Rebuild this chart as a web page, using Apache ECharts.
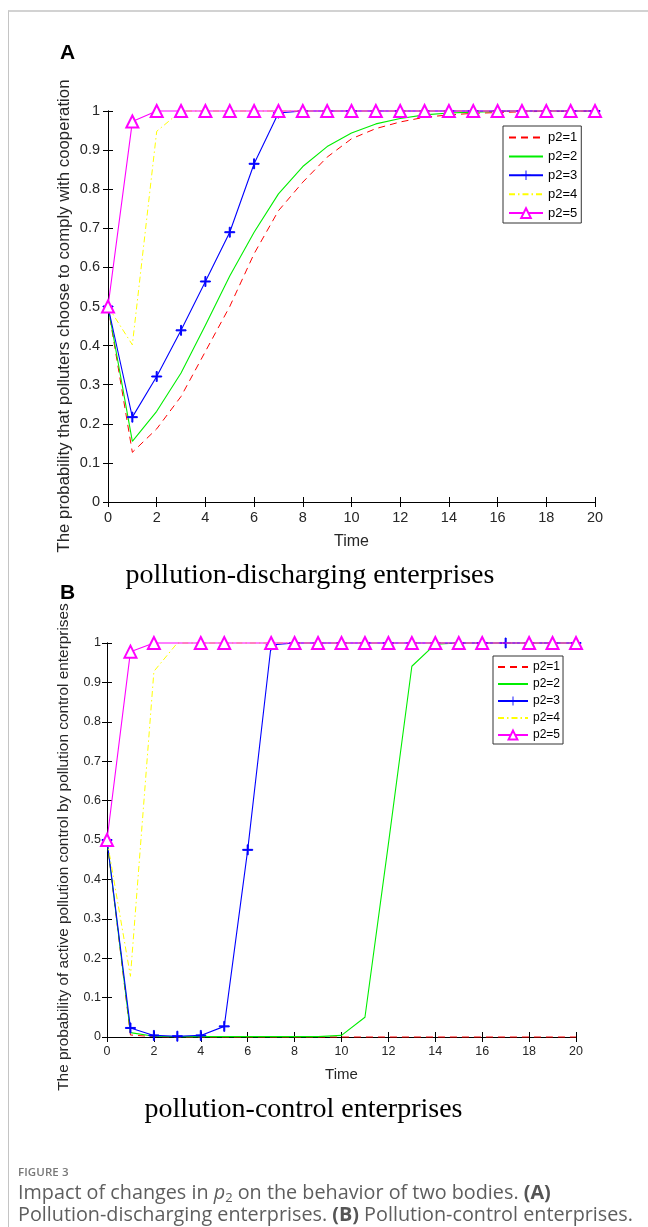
<!DOCTYPE html>
<html>
<head>
<meta charset="utf-8">
<script src="https://cdn.jsdelivr.net/npm/echarts@6/dist/echarts.min.js"></script>
<style>
  html, body { margin: 0; padding: 0; background: #fff; }
  #page { position: relative; width: 648px; height: 1227px; overflow: hidden; background: #fff; }
  #chart { position: absolute; left: 0; top: 0; width: 648px; height: 1227px; }
  #frame { position: absolute; left: 8px; top: 10px; width: 660px; height: 1300px;
           border-top: 2px solid #d2d2d2; border-left: 1px solid #c4c4c4; }
  #caption { position: absolute; left: 18px; top: 1164px; width: 640px;
             font-family: "Open Sans", "Noto Sans", sans-serif; color: #5e5e5e; }
  #caption .fig { font-size: 11.5px; font-weight: 600; color: #777; letter-spacing: 0.1px; line-height: 15px; }
  #caption .l1, #caption .l2 { font-size: 19.8px; line-height: 22px; white-space: nowrap; }
  #caption .l1 { margin-top: 2px; }
  #caption b { font-weight: 700; color: #555; }
  #caption sub { font-size: 13px; vertical-align: -3px; line-height: 0; }
</style>
</head>
<body>
<div id="page">
  <div id="frame"></div>
  <div id="chart"></div>
  <div id="caption">
    <div class="fig">FIGURE 3</div>
    <div class="l1">Impact of changes in <i>p</i><sub>2</sub> on the behavior of two bodies. <b>(A)</b></div>
    <div class="l2">Pollution-discharging enterprises. <b>(B)</b> Pollution-control enterprises.</div>
  </div>
</div>
<script>
// ---- data ----
const time = [0,1,2,3,4,5,6,7,8,9,10,11,12,13,14,15,16,17,18,19,20];
const seriesNames = ['p2=1', 'p2=2', 'p2=3', 'p2=4', 'p2=5'];
const yTicks = [0, 0.1, 0.2, 0.3, 0.4, 0.5, 0.6, 0.7, 0.8, 0.9, 1];
const xTicks = [0, 2, 4, 6, 8, 10, 12, 14, 16, 18, 20];

// Panel A: polluters complying with cooperation
const A_p1 = [0.5, 0.127, 0.187, 0.27, 0.385, 0.50, 0.635, 0.745, 0.818, 0.882, 0.929, 0.955, 0.972, 0.984, 0.990, 0.994, 0.996, 0.998, 0.999, 0.999, 1.0];
const A_p2 = [0.5, 0.155, 0.232, 0.33, 0.452, 0.578, 0.69, 0.788, 0.858, 0.909, 0.944, 0.967, 0.981, 0.990, 0.995, 0.997, 0.999, 1, 1, 1, 1];
const A_p3 = [0.5, 0.217, 0.321, 0.439, 0.564, 0.69, 0.865, 0.995, 1, 1, 1, 1, 1, 1, 1, 1, 1, 1, 1, 1, 1];
const A_p4 = [0.5, 0.402, 0.948, 1, 1, 1, 1, 1, 1, 1, 1, 1, 1, 1, 1, 1, 1, 1, 1, 1, 1];
const A_p5 = [0.5, 0.973, 1, 1, 1, 1, 1, 1, 1, 1, 1, 1, 1, 1, 1, 1, 1, 1, 1, 1, 1];

// Panel B: active pollution control by pollution-control enterprises
const B_p1 = [0.5, 0.005, 0.001, 0, 0, 0, 0, 0, 0, 0, 0, 0, 0, 0, 0, 0, 0, 0, 0, 0, 0];
const B_p2 = [0.5, 0.011, 0.002, 0.001, 0.001, 0.001, 0.001, 0.001, 0.001, 0.001, 0.004, 0.05, 0.49, 0.941, 0.997, 1, 1, 1, 1, 1, 1];
const B_p3 = [0.5, 0.023, 0.004, 0.002, 0.004, 0.027, 0.475, 0.995, 1, 1, 1, 1, 1, 1, 1, 1, 1, 1, 1, 1, 1];
const B_p4 = [0.5, 0.154, 0.928, 1, 1, 1, 1, 1, 1, 1, 1, 1, 1, 1, 1, 1, 1, 1, 1, 1, 1];
const B_p5 = [0.5, 0.978, 1, 1, 1, 1, 1, 1, 1, 1, 1, 1, 1, 1, 1, 1, 1, 1, 1, 1, 1];

// ---- styling helpers ----
const COLORS = ['#ff0000', '#00ee00', '#0000ff', '#ffff00', '#ff00ff'];
const CROSS = 'path://M4.5,0H5.5V4.5H10V5.5H5.5V10H4.5V5.5H0V4.5H4.5Z';
const B_hiddenTriangles = [3, 6, 17];
const FONT = '"Liberation Sans", Arial, sans-serif';
const NO_MARKER = [true, true, false, true, false];

function pairs(vals) { return time.map((t, i) => [t, vals[i]]); }

function makeSeries(panelVals, gi, hiddenTri) {
  const styles = [
    { lineStyle: { type: [7, 5], width: 1 }, symbol: 'none' },
    { lineStyle: { type: 'solid', width: 1.1 }, symbol: 'none' },
    { lineStyle: { type: 'solid', width: 1.1 }, symbol: CROSS, symbolSize: 10 },
    { lineStyle: { type: [6, 3, 1.5, 3], width: 1 }, symbol: 'none' },
    { lineStyle: { type: 'solid', width: 1.1 }, symbol: 'emptyTriangle', symbolSize: 12 }
  ];
  return panelVals.map((vals, k) => {
    const st = styles[k];
    let symbol = st.symbol;
    if (k === 4 && hiddenTri) {
      symbol = (v, p) => hiddenTri.includes(p.dataIndex) ? 'none' : 'emptyTriangle';
    }
    return {
      name: seriesNames[k],
      type: 'line',
      xAxisIndex: gi * 2,
      yAxisIndex: gi * 2,
      data: pairs(vals),
      symbol: symbol,
      symbolSize: st.symbolSize || 8,
      showSymbol: st.symbol !== 'none',
      showAllSymbol: true,
      clip: false,
      z: 2 + k,
      lineStyle: Object.assign({ color: COLORS[k] }, st.lineStyle),
      itemStyle: k === 4 ? { color: COLORS[k], borderColor: COLORS[k], borderWidth: 1 }
                         : { color: COLORS[k], borderColor: COLORS[k] },
      emphasis: { disabled: true },
      animation: false
    };
  });
}

function axesFor(gi, fontSize, nameSize, labelMarginX, labelMarginY, nameGap) {
  const tick = { show: true, inside: true, length: 5, lineStyle: { color: '#000', width: 1 } };
  const line = { show: true, lineStyle: { color: '#000', width: 1 } };
  const xa = [
    { type: 'value', gridIndex: gi, min: 0, max: 20, interval: 2, position: 'bottom',
      axisLine: line, axisTick: tick, splitLine: { show: false },
      axisLabel: { color: '#262626', fontSize: fontSize, fontFamily: FONT, margin: labelMarginX },
      name: 'Time', nameLocation: 'middle', nameGap: nameGap,
      nameTextStyle: { color: '#262626', fontSize: nameSize, fontFamily: FONT } },
    { type: 'value', gridIndex: gi, min: 0, max: 20, interval: 2, position: 'top',
      axisLine: line, axisTick: tick, axisLabel: { show: false }, splitLine: { show: false } }
  ];
  const ya = [
    { type: 'value', gridIndex: gi, min: 0, max: 1, interval: 0.1, position: 'left',
      axisLine: line, axisTick: tick, splitLine: { show: false },
      axisLabel: { color: '#262626', fontSize: fontSize, fontFamily: FONT, margin: labelMarginY,
                   formatter: v => (Math.abs(v) < 1e-9 ? '0' : (Math.abs(v - 1) < 1e-9 ? '1' : v.toFixed(1))) } },
    { type: 'value', gridIndex: gi, min: 0, max: 1, interval: 0.1, position: 'right',
      axisLine: line, axisTick: tick, axisLabel: { show: false }, splitLine: { show: false } }
  ];
  return { xa, ya };
}

const axA = axesFor(0, 14.5, 16, 8, 8, 32);
const axB = axesFor(1, 12.5, 15, 8, 6, 30);

const chart = echarts.init(document.getElementById('chart'), null, { renderer: 'canvas' });

const legendData = seriesNames.map((n, k) => NO_MARKER[k]
  ? { name: n, itemStyle: { opacity: 0, color: 'rgba(0,0,0,0)', borderColor: 'rgba(0,0,0,0)', borderWidth: 0 } }
  : { name: n });

const legendBase = {
  orient: 'vertical',
  data: legendData,
  backgroundColor: '#fff',
  borderColor: '#333',
  borderWidth: 1,
  borderRadius: 0,
  selectedMode: false
};

chart.setOption({
  animation: false,
  backgroundColor: 'transparent',
  grid: [
    { left: 108, top: 111, width: 487, height: 391, containLabel: false },
    { left: 107, top: 643, width: 469, height: 394, containLabel: false }
  ],
  xAxis: axA.xa.concat(axB.xa),
  yAxis: axA.ya.concat(axB.ya),
  legend: [
    Object.assign({}, legendBase, {
      left: 503, top: 126, itemWidth: 34, itemHeight: 12, itemGap: 5.9, itemTextGap: 4,
      padding: [5, 4, 3.4, 5], textStyle: { color: '#000', fontFamily: FONT, fontSize: 13 }
    }),
    Object.assign({}, legendBase, {
      left: 493, top: 656, itemWidth: 30, itemHeight: 11, itemGap: 5, itemTextGap: 4,
      padding: [5, 3, 3, 4], textStyle: { color: '#000', fontFamily: FONT, fontSize: 12 }
    })
  ],
  series: makeSeries([A_p1, A_p2, A_p3, A_p4, A_p5], 0, null)
    .concat(makeSeries([B_p1, B_p2, B_p3, B_p4, B_p5], 1, B_hiddenTriangles)),
  graphic: [
    { type: 'text', left: 60, top: 43, style: { text: 'A', font: 'bold 21px ' + FONT, fill: '#000' } },
    { type: 'text', left: 60, top: 583, style: { text: 'B', font: 'bold 21px ' + FONT, fill: '#000' } },
    { type: 'text', x: 64, y: 316, rotation: Math.PI / 2,
      style: { text: 'The probability that polluters choose to comply with cooperation',
               font: '16.8px ' + FONT, fill: '#262626', align: 'center', verticalAlign: 'middle' } },
    { type: 'text', x: 64, y: 847, rotation: Math.PI / 2,
      style: { text: 'The probability of active pollution control by pollution control enterprises',
               font: '15.4px ' + FONT, fill: '#262626', align: 'center', verticalAlign: 'middle' } },
    { type: 'text', x: 310, y: 576,
      style: { text: 'pollution-discharging enterprises', font: '28px "Liberation Serif", "Times New Roman", serif',
               fill: '#000', align: 'center', verticalAlign: 'middle' } },
    { type: 'text', x: 303.5, y: 1110,
      style: { text: 'pollution-control enterprises', font: '28px "Liberation Serif", "Times New Roman", serif',
               fill: '#000', align: 'center', verticalAlign: 'middle' } }
  ]
});
</script>
</body>
</html>
